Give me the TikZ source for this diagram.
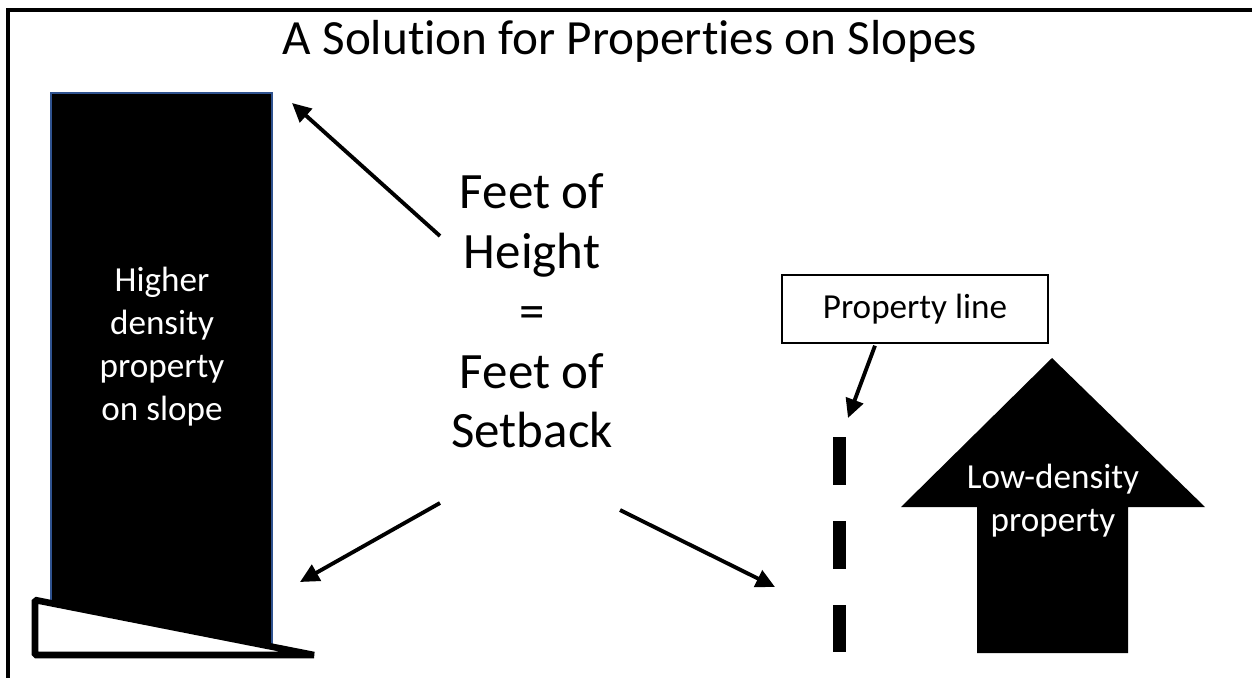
\documentclass[tikz,border=0pt]{standalone}
\usepackage{fontspec}
\setmainfont{Carlito}[Ligatures={NoCommon,NoDiscretionary,NoRequired}]
\usetikzlibrary{arrows.meta}
\definecolor{edgeblue}{HTML}{2F528F}

\begin{document}
\begin{tikzpicture}[
    % GLOBAL CFG: one unit = one pixel of the layout
    x=0.02cm, y=-0.02cm,
    >={Triangle[length=0.38cm, width=0.36cm]},
    % Styles
    frame/.style={% The page border
        line width=2.2pt,
        },
    pointer/.style={% Plain black arrows
        ->,
        line width=2.2pt,
        },
    bigtext/.style={%
        font=\fontsize{29}{34}\selectfont,
        align=center,
        },
    smalltext/.style={%
        font=\fontsize{20}{24.5}\selectfont,
        align=center,
        },
    inverse/.style={% White text on black
        smalltext,
        text=white,
        },
    labelbox/.style={%
        draw,
        line width=0.8pt,
        minimum width=5.32cm,
        minimum height=1.36cm,
        smalltext,
        },
    ]
    \useasboundingbox (0,0) rectangle (1252,677);

    % Border (top and left only)
    \draw [frame] (1254,10) -- (8,10) -- (8,679);

    % Title
    \node [font=\fontsize{28}{33}\selectfont] (title) at (630,41) {A Solution for Properties on Slopes};

    % Tall building on the slope
    \draw [fill=black, draw=edgeblue, line width=1.2pt] (51,93) rectangle (272,645);
    \node [inverse] (tower) at (162,347) {Higher\\density\\property\\on slope};

    % The slope
    \draw [fill=white, line width=5pt*0.75, line join=bevel] (35,600) -- (35,655) -- (314,655) -- cycle;
    \coordinate (slope) at (300,582);
    \coordinate (top) at (292,103);

    % Rule in the middle
    \node [bigtext] (rule) at (532,311) {Feet of\\Height\\=\\Feet of\\Setback};

    % Property line (dashed)
    \foreach \ya/\yb in {437/485, 521/569, 605/652}
        \fill (833,\ya) rectangle (846,\yb);
    \coordinate (plline) at (848,418);
    \coordinate (plfoot) at (775,587);
    \node [labelbox] (propbox) at (915,309) {Property line};

    % Low-density house as a block arrow
    \fill (1052,358) -- (1205,507) -- (1128,507) -- (1128,653)
        -- (977,653) -- (977,507) -- (901,507) -- cycle;
    \node [inverse] (house) at (1053,501) {Low-density\\property};

    % Arrows
    \coordinate (r1) at (440,236);
    \coordinate (r2) at (440,503);
    \coordinate (r3) at (620,510);
    \draw [pointer] (r1) -- (top);
    \draw [pointer] (r2) -- (slope);
    \draw [pointer] (r3) -- (plfoot);
    \draw [pointer] (propbox.south) ++(-40,2) -- (plline);

\end{tikzpicture}
\end{document}
